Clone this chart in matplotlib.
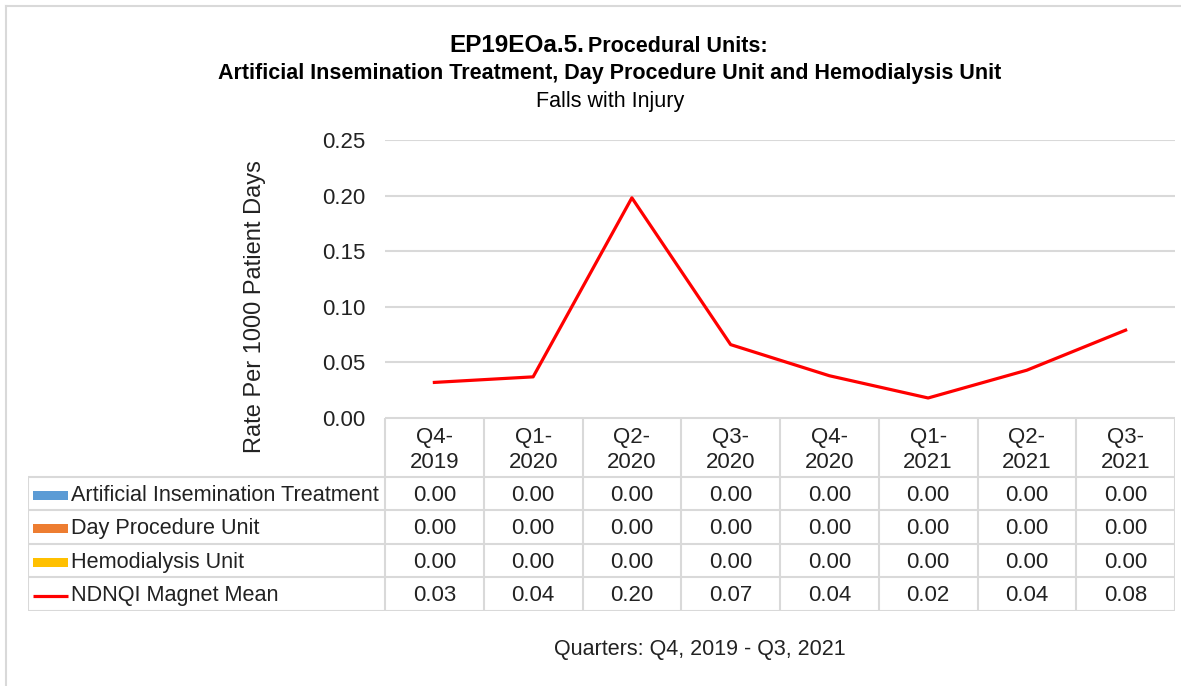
import numpy as np
import matplotlib.pyplot as plt
from matplotlib.patches import Rectangle
from matplotlib.lines import Line2D

plt.rcParams['font.family'] = ['Liberation Sans', 'DejaVu Sans']

# Data
quarters = ['Q4-\n2019', 'Q1-\n2020', 'Q2-\n2020', 'Q3-\n2020',
            'Q4-\n2020', 'Q1-\n2021', 'Q2-\n2021', 'Q3-\n2021']
series_names = ['Artificial Insemination Treatment', 'Day Procedure Unit',
                'Hemodialysis Unit', 'NDNQI Magnet Mean']
ai_treatment = [0.00, 0.00, 0.00, 0.00, 0.00, 0.00, 0.00, 0.00]
day_procedure = [0.00, 0.00, 0.00, 0.00, 0.00, 0.00, 0.00, 0.00]
hemodialysis = [0.00, 0.00, 0.00, 0.00, 0.00, 0.00, 0.00, 0.00]
magnet_mean = [0.032, 0.037, 0.198, 0.066, 0.038, 0.018, 0.043, 0.079]
colors = ['#5B9BD5', '#ED7D31', '#FFC000', '#FF0000']

W, H = 1181, 686
fig = plt.figure(figsize=(W / 100, H / 100), dpi=100)

def fx(px):
    return px / W

def fy(py):
    return 1 - py / H

txt = '#222222'

# outer frame (top and left edges only visible)
fig.add_artist(Line2D([fx(6), 1], [fy(6), fy(6)], color='#d9d9d9', lw=1.5))
fig.add_artist(Line2D([fx(6), fx(6)], [fy(6), 0], color='#d9d9d9', lw=1.5))

# Line plot area
left, right, top, bottom = 385, 1175, 140, 418
ax = fig.add_axes([fx(left), fy(bottom), fx(right - left), (bottom - top) / H])
x = np.arange(len(quarters))
ax.plot(x, magnet_mean, color=colors[3], lw=2.3, zorder=3)
ax.set_xlim(-0.5, len(quarters) - 0.5)
ax.set_ylim(0, 0.25)
yt = np.arange(0, 0.26, 0.05)
ax.set_yticks(yt)
ax.set_yticklabels([f'{v:.2f}' for v in yt], fontsize=16)
ax.tick_params(axis='y', length=0, pad=14, colors=txt)
ax.set_xticks([])
ax.grid(axis='y', color='#d9d9d9', lw=1.5)
for s in ax.spines.values():
    s.set_visible(False)
fig.text(fx(255), fy(307), 'Rate Per 1000 Patient Days', rotation=90, ha='center',
         va='center', fontsize=17, color=txt)

# Table
col_w = (right - left) / len(quarters)
tleft, tright, ttop, tbottom = 28, 1175, 418, 611
header_h = 1.75
n_rows = len(series_names)
tax = fig.add_axes([fx(tleft), fy(tbottom), fx(tright - tleft), (tbottom - ttop) / H])
xmin = len(quarters) - 0.5 - (tright - tleft) / col_w
tax.set_xlim(xmin, len(quarters) - 0.5)
tax.set_ylim(header_h + n_rows, 0)
tax.axis('off')

gc = '#d9d9d9'
lw = 1.5
tax.hlines(0, -0.5, len(quarters) - 0.5, color=gc, lw=lw)
for r in range(n_rows + 1):
    tax.hlines(header_h + r, xmin, len(quarters) - 0.5, color=gc, lw=lw)
for c in range(len(quarters) + 1):
    tax.vlines(c - 0.5, 0, header_h + n_rows, color=gc, lw=lw)
tax.vlines(xmin + 0.005, header_h, header_h + n_rows, color=gc, lw=lw)

for c, q in enumerate(quarters):
    tax.text(c, header_h / 2 + 0.08, q, ha='center', va='center', fontsize=16,
             linespacing=1.2, color=txt)

values = [ai_treatment, day_procedure, hemodialysis, magnet_mean]
for r, (name, vals, col) in enumerate(zip(series_names, values, colors)):
    yc = header_h + r + 0.55
    for c, v in enumerate(vals):
        tax.text(c, yc, f'{v:.2f}', ha='center', va='center', fontsize=16, color=txt)
    kx0 = xmin + 5 / col_w
    kw = 35 / col_w
    if r < 3:
        tax.add_patch(Rectangle((kx0, yc - 0.14), kw, 0.28, color=col, lw=0))
    else:
        tax.plot([kx0, kx0 + kw], [yc, yc], color=col, lw=2.3, solid_capstyle='butt')
    tax.text(kx0 + kw + 3 / col_w, yc, name, ha='left', va='center', fontsize=15.6,
             color=txt)

# Titles
fig.text(fx(584), fy(45), 'EP19EOa.5.', ha='right', va='center', fontsize=17.5,
         fontweight='bold')
fig.text(fx(588), fy(46), 'Procedural Units:', ha='left', va='center', fontsize=15.5,
         fontweight='bold')
fig.text(fx(610), fy(74), 'Artificial Insemination Treatment, Day Procedure Unit and Hemodialysis Unit',
         ha='center', va='center', fontsize=15.5, fontweight='bold')
fig.text(fx(610), fy(101), 'Falls with Injury', ha='center', va='center', fontsize=15.5)
fig.text(fx(700), fy(649), 'Quarters: Q4, 2019 - Q3, 2021', ha='center', va='center',
         fontsize=15.5, color=txt)

fig.savefig('out.png', dpi=100)
